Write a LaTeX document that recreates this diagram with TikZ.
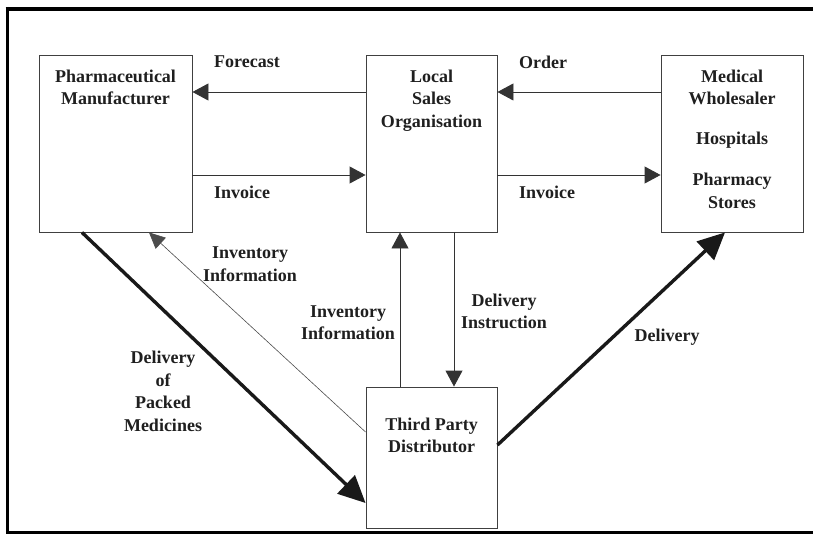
\documentclass[tikz,border=0pt]{standalone}
\usepackage{fontspec}
\setmainfont{Liberation Serif}
\usetikzlibrary{arrows.meta}

\tikzset{
  box/.style={draw=black!75, line width=0.9pt, inner sep=0pt},
  txt/.style={font=\bfseries\fontsize{18}{22.5}\selectfont, align=center, inner sep=0pt, text=black!88},
  flow/.style={draw=black!80, line width=0.9pt, -{Triangle[length=16pt,width=17pt]}},
  infoflow/.style={draw=black!70, line width=0.6pt, -{Triangle[length=16pt,width=15pt]}},
  goods/.style={draw=black!90, line width=3.4pt, -{Triangle[length=27pt,width=25pt]}},
}

\begin{document}
\begin{tikzpicture}[x=1pt,y=-1pt]
  \useasboundingbox (0,0) rectangle (813,540);
  \draw[line width=4.2pt] (5.5,8.8) -- (813,8.8);
  \draw[line width=3.4pt] (7.3,7) -- (7.3,533.5);
  \draw[line width=2.4pt] (6,532.5) -- (813,532.5);

  \node[box, minimum width=153pt, minimum height=177pt] (pm)  at (115.5,143.5) {};
  \node[box, minimum width=131pt, minimum height=177pt] (lso) at (431.5,143.5) {};
  \node[box, minimum width=142pt, minimum height=177pt] (mw)  at (732,143.5) {};
  \node[box, minimum width=131pt, minimum height=141pt] (tpd) at (431.5,457.5) {};

  \node[txt, anchor=north] (pmname)  at ([yshift=-15pt]pm.north)  {Pharmaceutical\\Manufacturer};
  \node[txt, anchor=north] (lsoname) at ([yshift=-15pt]lso.north) {Local\\Sales\\Organisation};
  \node[txt, anchor=north] (mwname)  at ([yshift=-15pt]mw.north)  {Medical\\Wholesaler\\[17pt]Hospitals\\[19pt]Pharmacy\\Stores};
  \node[txt, anchor=north] (tpdname) at ([yshift=-31pt]tpd.north) {Third Party\\Distributor};

  \draw[flow] ([yshift=51.5pt]lso.west) -- ([yshift=51.5pt]pm.east);
  \draw[flow] ([yshift=-31.5pt]pm.east) -- ([yshift=-31.5pt]lso.west);
  \draw[flow] ([yshift=51.5pt]mw.west) -- ([yshift=51.5pt]lso.east);
  \draw[flow] ([yshift=-31.5pt]lso.east) -- ([yshift=-31.5pt]mw.west);
  \draw[flow] ([xshift=-31.5pt]tpd.north) -- ([xshift=-31.5pt]lso.south);
  \draw[flow] ([xshift=22.5pt]lso.south) -- ([xshift=22.5pt]tpd.north);
  \draw[infoflow] ([yshift=25.5pt]tpd.west) -- ([xshift=33.5pt]pm.south);
  \draw[goods] ([xshift=-33.5pt]pm.south) -- ([yshift=-45.5pt]tpd.west);
  \draw[goods] ([yshift=12.5pt]tpd.east) -- ([xshift=-7pt]mw.south);

  \node[txt] (forecast) at (247,62)    {Forecast};
  \node[txt] (invoicel) at (242,192.5) {Invoice};
  \node[txt] (order)    at (543,62)    {Order};
  \node[txt] (invoicer) at (547,192.5) {Invoice};
  \node[txt] (invleft)  at (250,264)   {Inventory\\Information};
  \node[txt] (invmid)   at (348,322.5) {Inventory\\Information};
  \node[txt] (instr)    at (504,311.5) {Delivery\\Instruction};
  \node[txt] (deliv)    at (667,337)   {Delivery};
  \node[txt] (packed)   at (163,391.5) {Delivery\\of\\Packed\\Medicines};
\end{tikzpicture}
\end{document}
